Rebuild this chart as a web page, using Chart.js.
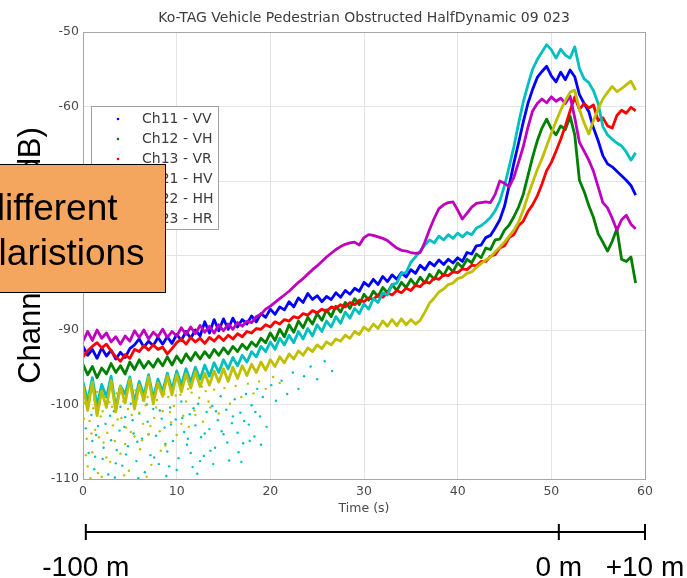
<!DOCTYPE html>
<html>
<head>
<meta charset="utf-8">
<script src="https://cdn.jsdelivr.net/npm/chart.js@4.4.1/dist/chart.umd.min.js"></script>
<style>
  body { margin: 0; background: #fff; }
  #wrap { position: relative; width: 687px; height: 578px; overflow: hidden; }
  #noteBox { position: absolute; left: -2px; top: 164px; width: 168px; height: 129px; box-sizing: border-box;
             background: #F4A65F; border: 1.5px solid #000; }
  #noteText { position: absolute; left: -99px; top: 185px; width: 300px; text-align: center;
              font: 37px/45px "Liberation Sans", Arial, sans-serif; color: #000; }
</style>
</head>
<body>
<div id="wrap">
  <canvas id="gainChart" width="687" height="578"></canvas>
  <div id="noteBox"></div>
  <div id="noteText">different<br>polaristions</div>
</div>
<script>
// 1. Data (time in s, channel gain in dB)
const plotTitle = 'Ko-TAG Vehicle Pedestrian Obstructed HalfDynamic 09 023';
const channelLabels = ['Ch11 - VV', 'Ch12 - VH', 'Ch13 - VR', 'Ch21 - HV', 'Ch22 - HH', 'Ch23 - HR'];
const channelColors = ['#0000FF', '#008000', '#FF0000', '#00BFBF', '#BF00BF', '#BFBF00'];

const timeS = [0,0.5,1,1.5,2,2.5,3,3.5,4,4.5,
  5,5.5,6,6.5,7,7.5,8,8.5,9,9.5,
  10,10.5,11,11.5,12,12.5,13,13.5,14,14.5,
  15,15.5,16,16.5,17,17.5,18,18.5,19,19.5,
  20,20.5,21,21.5,22,22.5,23,23.5,24,24.5,
  25,25.5,26,26.5,27,27.5,28,28.5,29,29.5,
  30,30.5,31,31.5,32,32.5,33,33.5,34,34.5,
  35,35.5,36,36.5,37,37.5,38,38.5,39,39.5,
  40,40.5,41,41.5,42,42.5,43,43.5,44,44.5,
  45,45.5,46,46.5,47,47.5,48,48.5,49,49.5,
  50,50.5,51,51.5,52,52.5,53,53.5,54,54.5,
  55,55.5,56,56.5,57,57.5,58,58.5,59];

const ch11VV = [-92.2,-93.4,-92.6,-93.8,-92.4,-93.5,-92.7,-93.9,-93.0,-93.7,
  -92.5,-92.0,-91.2,-92.3,-91.5,-92.1,-91.0,-91.9,-90.9,-91.8,
  -90.6,-91.4,-90.2,-91.1,-90.0,-90.8,-88.9,-90.4,-88.6,-90.1,
  -88.5,-89.9,-88.4,-89.6,-88.6,-89.2,-88.1,-88.9,-87.8,-88.3,
  -87.2,-87.9,-86.9,-87.3,-86.2,-86.9,-85.7,-86.3,-85.1,-85.9,
  -85.4,-86.2,-85.5,-85.9,-85.0,-85.6,-84.7,-85.2,-84.4,-84.8,
  -83.6,-84.1,-83.2,-83.9,-82.8,-83.5,-82.6,-83.2,-82.3,-82.9,
  -81.9,-82.4,-81.3,-81.9,-80.9,-81.4,-80.6,-81.2,-80.5,-81.0,
  -80.3,-80.8,-79.6,-79.8,-78.7,-78.6,-77.6,-77.3,-76.3,-75.2,
  -73.4,-70.6,-67.6,-64.9,-62.1,-59.6,-57.7,-56.1,-55.3,-54.6,
  -55.9,-56.7,-55.4,-56.4,-55.1,-56.0,-58.4,-59.6,-60.7,-62.9,
  -64.6,-66.6,-67.7,-68.1,-68.7,-69.3,-69.9,-70.6,-71.9];

const ch12VH = [-94.6,-96.0,-94.9,-96.4,-95.1,-95.9,-94.5,-95.7,-94.8,-95.9,
  -94.3,-95.3,-94.0,-95.1,-94.2,-95.0,-93.9,-94.8,-93.6,-94.7,
  -93.5,-94.4,-93.2,-94.1,-93.0,-93.9,-92.9,-93.7,-92.6,-93.4,
  -92.4,-93.2,-92.2,-92.9,-91.9,-92.6,-91.6,-92.2,-91.1,-91.7,
  -90.4,-91.4,-89.9,-90.9,-89.3,-90.3,-88.8,-89.7,-88.3,-89.2,
  -87.8,-88.7,-87.3,-88.2,-86.8,-87.6,-86.3,-87.1,-85.8,-86.6,
  -85.2,-86.0,-84.8,-85.5,-84.3,-85.0,-83.9,-84.7,-83.6,-84.3,
  -83.2,-84.0,-82.9,-83.7,-82.5,-83.2,-82.0,-82.7,-81.5,-82.2,
  -81.0,-81.6,-80.5,-81.0,-79.8,-80.3,-79.0,-79.2,-77.9,-77.8,
  -76.6,-75.9,-74.8,-73.5,-71.8,-69.3,-66.8,-64.6,-62.9,-61.7,
  -63.0,-63.8,-62.6,-63.1,-61.3,-63.8,-69.9,-71.4,-73.3,-74.9,
  -77.1,-78.2,-79.4,-78.1,-76.4,-80.5,-80.8,-80.2,-83.7];

const ch13VR = [-93.6,-92.8,-92.2,-91.7,-92.4,-91.9,-92.8,-93.6,-94.2,-93.3,
  -93.8,-92.6,-92.9,-92.1,-92.7,-92.0,-92.6,-92.3,-93.2,-92.5,
  -91.7,-91.2,-91.9,-91.0,-91.6,-91.1,-91.8,-91.0,-91.5,-90.8,
  -91.4,-90.7,-91.2,-90.5,-90.9,-90.2,-90.4,-89.8,-89.9,-89.3,
  -89.6,-88.9,-89.2,-88.6,-88.8,-88.2,-88.4,-87.8,-88.0,-87.4,
  -87.7,-87.2,-87.5,-86.9,-87.1,-86.6,-86.9,-86.3,-86.6,-86.0,
  -86.2,-85.7,-85.9,-85.3,-85.6,-85.0,-85.3,-84.7,-85.0,-84.4,
  -84.7,-84.0,-84.2,-83.5,-83.7,-83.0,-83.2,-82.6,-82.7,-82.2,
  -82.3,-81.8,-81.9,-81.3,-81.4,-80.8,-80.8,-80.1,-79.9,-79.0,
  -78.7,-77.6,-77.2,-76.0,-75.4,-74.1,-73.2,-72.0,-70.4,-68.6,
  -67.5,-66.0,-64.4,-62.6,-60.6,-58.7,-60.4,-59.6,-60.2,-59.8,
  -61.9,-61.5,-62.6,-62.9,-61.2,-60.5,-60.9,-60.1,-60.6];

const ch21HV = [-97.0,-99.5,-96.4,-100.2,-97.3,-99.0,-96.2,-100.5,-97.5,-98.6,
  -96.3,-99.8,-96.9,-98.8,-96.0,-99.2,-96.6,-98.3,-95.8,-98.0,
  -95.5,-97.4,-95.2,-97.0,-95.0,-96.6,-94.7,-96.2,-94.4,-95.7,
  -94.0,-95.2,-93.7,-94.8,-93.4,-94.3,-92.9,-93.6,-92.2,-92.9,
  -91.6,-92.6,-91.1,-92.0,-90.7,-91.7,-90.2,-91.2,-89.8,-90.8,
  -89.3,-90.2,-88.8,-89.6,-88.2,-89.1,-87.6,-88.4,-87.1,-87.8,
  -86.5,-87.2,-85.8,-86.3,-85.0,-85.3,-83.9,-83.7,-82.4,-82.3,
  -80.9,-80.2,-79.4,-78.6,-77.9,-78.3,-77.4,-77.9,-77.2,-77.7,
  -77.0,-77.5,-76.9,-77.2,-76.3,-76.0,-75.5,-74.9,-74.0,-72.7,
  -70.6,-68.1,-65.4,-62.3,-59.4,-57.1,-55.0,-53.7,-52.7,-51.7,
  -52.4,-53.5,-52.3,-53.1,-53.5,-52.0,-54.9,-56.3,-56.8,-57.9,
  -59.6,-62.7,-63.8,-64.4,-64.9,-65.3,-66.1,-67.2,-66.2];

const ch22HH = [-91.5,-90.2,-91.4,-90.0,-91.1,-90.4,-91.6,-90.9,-91.9,-90.8,
  -91.5,-90.1,-91.0,-90.0,-91.2,-90.3,-90.9,-89.9,-91.0,-90.2,
  -90.8,-89.7,-90.6,-89.6,-90.5,-89.4,-90.3,-89.5,-90.4,-89.3,
  -90.1,-89.2,-89.9,-89.0,-89.5,-88.8,-89.0,-88.2,-87.9,-87.2,
  -86.8,-86.3,-85.8,-85.3,-84.8,-84.2,-83.6,-83.1,-82.5,-81.9,
  -81.4,-80.8,-80.2,-79.7,-79.2,-78.8,-78.5,-78.3,-78.2,-78.6,
  -77.6,-77.2,-77.3,-77.5,-77.7,-78.0,-78.5,-79.0,-79.3,-79.4,
  -79.6,-79.7,-79.6,-78.2,-76.5,-75.0,-73.7,-73.2,-72.9,-72.8,
  -73.9,-75.1,-74.3,-73.5,-73.0,-72.9,-72.8,-72.9,-71.8,-70.0,
  -70.3,-70.8,-69.5,-67.5,-65.4,-62.8,-60.6,-59.6,-59.0,-59.5,
  -58.7,-59.3,-58.9,-59.6,-58.6,-61.5,-64.8,-66.0,-67.2,-68.7,
  -70.8,-72.9,-73.6,-75.0,-76.6,-75.2,-74.6,-75.8,-76.4];

const ch23HR = [-97.5,-100.8,-97.0,-101.5,-98.2,-100.4,-96.8,-101.0,-97.6,-99.8,
  -96.6,-100.6,-97.4,-99.5,-96.3,-99.9,-97.1,-98.9,-96.2,-98.7,
  -96.0,-98.3,-95.9,-97.8,-95.6,-97.6,-95.8,-97.4,-95.5,-97.0,
  -95.2,-96.9,-95.0,-96.5,-94.8,-96.1,-94.6,-95.7,-94.3,-95.4,
  -94.0,-94.9,-93.6,-94.4,-93.2,-93.9,-92.8,-93.4,-92.4,-92.9,
  -92.0,-92.5,-91.6,-92.0,-91.2,-91.5,-90.7,-91.1,-90.2,-90.6,
  -89.6,-90.1,-89.2,-89.8,-88.8,-89.5,-88.6,-89.4,-88.5,-89.3,
  -88.6,-89.2,-88.7,-87.6,-86.4,-85.7,-84.9,-84.5,-83.9,-83.7,
  -83.1,-82.9,-82.4,-82.2,-81.6,-81.1,-80.6,-80.2,-79.5,-78.9,
  -78.2,-77.4,-76.6,-75.5,-73.9,-72.0,-70.2,-68.5,-67.0,-65.3,
  -63.6,-62.0,-60.5,-59.2,-58.1,-57.8,-60.4,-62.2,-63.7,-61.9,
  -60.3,-59.0,-58.1,-57.3,-58.0,-57.6,-57.1,-56.6,-57.8];

// scattered low-level samples of HV and HR (noise floor dots)
const hvDotT = [0.3,0.6,0.9,1.2,1.4,1.8,2.1,2.4,2.7,3.0,3.3,3.6,3.9,4.2,4.5,4.8,5.1,5.4,5.7,6.0,
  6.3,6.6,6.9,7.2,7.5,7.8,8.1,8.4,8.7,9.0,9.3,9.6,9.9,10.2,10.5,10.8,11.1,11.4,11.7,12.0,
  12.3,12.6,12.9,13.2,13.5,13.8,14.1,14.4,14.7,15.0,15.3,15.6,15.9,16.2,16.5,16.8,17.1,17.4,17.7,18.0,
  18.3,18.6,18.9,19.2,19.6,20.1,20.6,21.2,21.8,22.4,23.0,23.6,24.3,25.0,25.8,26.6,12.2,8.9,5.9,3.4,
  0.5,1.0,1.6,2.2,2.9,3.5,4.0,4.6,5.3,5.8,6.4,7.0,7.6,8.2,8.8,9.4,10.0,10.6,11.2,11.8,
  12.5,13.0,13.6,14.2,14.8,15.4,16.0,16.6,17.2,17.8,18.4,19.0,1.3,2.6,4.4,6.8,9.2,11.5,13.9,16.9];
const hvDotDb = [-103.2,-106.5,-101.4,-108.7,-104.1,-99.8,-107.3,-102.6,-109.4,-104.8,-100.9,-106.1,-103.5,-108.2,-101.7,-105.6,-99.9,-103.9,-107.6,-101.2,
  -104.6,-109.1,-102.3,-106.8,-100.6,-104.2,-108.0,-101.9,-103.1,-106.3,-100.4,-104.9,-102.0,-107.2,-99.6,-103.7,-105.4,-101.3,-108.4,-102.8,
  -99.9,-104.4,-106.9,-101.0,-103.3,-100.2,-105.8,-102.1,-98.9,-104.0,-100.7,-107.5,-102.5,-99.3,-103.8,-101.1,-105.2,-98.6,-102.7,-100.1,
  -104.3,-97.9,-101.6,-99.0,-103.0,-97.4,-99.5,-96.8,-98.6,-95.7,-97.9,-96.2,-94.9,-96.6,-94.2,-95.5,-109.3,-109.6,-109.9,-109.8,
  -100.6,-104.9,-102.9,-105.8,-101.5,-107.9,-100.3,-106.7,-102.1,-105.0,-99.4,-104.0,-107.1,-100.8,-105.3,-102.7,-108.8,-101.8,-104.6,-100.5,
  -107.6,-103.9,-106.2,-100.9,-103.6,-105.1,-101.6,-106.4,-102.2,-104.9,-101.0,-105.4,-107.0,-99.6,-103.0,-100.0,-108.3,-106.5,-108.0,-107.7];

const hrDotT = [0.2,0.4,0.5,0.7,1.0,1.1,1.3,1.6,1.9,2.2,2.3,2.6,2.9,3.1,3.4,3.7,4.0,4.3,4.6,4.9,
  5.2,5.5,5.8,6.1,6.4,6.7,7.0,7.3,7.6,7.9,8.2,8.5,8.8,9.1,9.4,9.7,10.0,10.4,10.7,11.0,
  11.3,11.6,11.9,12.4,12.8,13.1,13.6,14.0,14.5,15.1,15.7,16.3,16.9,17.6,18.2,18.8,19.5,20.3,21.0,0.8,
  2.0,4.4,6.8,3.9,1.5,0.1,0.3,0.6,0.9,1.2,1.7,2.1,2.5,2.8,3.2,3.6,4.1,4.5,4.8,5.1,
  5.6,6.0,6.3,6.9,7.2,7.8,8.3,8.7,9.3,9.9,10.5,11.2,12.0,12.7,13.4];
const hrDotDb = [-99.8,-104.6,-108.3,-102.2,-106.4,-100.5,-103.4,-109.2,-101.6,-105.1,-98.9,-103.8,-107.7,-100.3,-104.9,-102.0,-106.6,-99.6,-103.1,-108.9,
  -101.4,-104.3,-99.2,-106.0,-102.6,-100.1,-104.0,-108.1,-101.8,-99.4,-103.6,-100.9,-105.5,-99.0,-102.4,-100.2,-104.1,-98.7,-101.5,-99.6,
  -103.0,-98.4,-100.8,-99.1,-102.3,-98.2,-100.4,-98.0,-101.2,-97.8,-99.9,-97.5,-99.0,-97.2,-98.5,-96.9,-97.9,-96.3,-97.1,-109.9,
  -109.7,-109.5,-109.7,-97.8,-98.3,-101.9,-106.8,-98.7,-103.9,-99.4,-104.4,-100.9,-107.1,-99.7,-102.8,-98.5,-101.8,-105.3,-100.6,-103.7,
  -98.1,-101.1,-104.8,-99.0,-102.9,-100.4,-106.2,-98.6,-101.0,-98.8,-102.6,-97.9,-101.4,-97.6,-99.6];

// distance scale under the time axis
const distMarksS = [0.3, 50.8, 60];
const distLabels = ['-100 m', '0 m', '+10 m'];

// 2. Helpers to build datasets
const tickFont = { family: 'DejaVu Sans', size: 12.5 };
const tickColor = '#4a4a4a';

const lineSet = (i, vals) => ({
  label: channelLabels[i],
  data: vals.map((v, k) => ({ x: timeS[k], y: v })),
  borderColor: channelColors[i],
  backgroundColor: channelColors[i],
  borderWidth: 2.8,
  borderJoinStyle: 'round',
  pointRadius: 0,
  fill: false,
  order: 6 - i
});

const dotSet = (i, ts, dbs, order) => ({
  label: channelLabels[i] + ' dots',
  isDots: true,
  data: ts.map((t, k) => ({ x: t, y: dbs[k] })),
  showLine: false,
  pointRadius: 1.2,
  pointBorderWidth: 0,
  pointBackgroundColor: channelColors[i],
  order
});

// 3. Title, axes box, legend and distance bar drawn on top
const figureExtras = {
  id: 'figureExtras',
  afterDraw(chart) {
    const { ctx, chartArea: a, scales: { x } } = chart;
    ctx.save();

    ctx.strokeStyle = '#a6a6a6';
    ctx.lineWidth = 1;
    ctx.strokeRect(a.left + 0.5, a.top + 0.5, a.right - a.left, a.bottom - a.top);

    ctx.fillStyle = '#3c3c3c';
    ctx.font = '14px "DejaVu Sans"';
    ctx.textAlign = 'center';
    ctx.textBaseline = 'middle';
    ctx.fillText(plotTitle, (a.left + a.right) / 2, a.top - 14);

    // legend box
    const lx = a.left + 8, ly = a.top + 74, lw = 127, lh = 123;
    ctx.fillStyle = '#fff';
    ctx.fillRect(lx, ly, lw, lh);
    ctx.strokeStyle = '#a0a0a0';
    ctx.strokeRect(lx + 0.5, ly + 0.5, lw, lh);
    ctx.textAlign = 'left';
    chart.data.datasets.filter(d => !d.isDots).forEach((d, i) => {
      const y = ly + 13 + i * 20;
      ctx.fillStyle = d.borderColor;
      ctx.beginPath();
      ctx.arc(lx + 27, y, 1.3, 0, Math.PI * 2);
      ctx.fill();
      ctx.fillStyle = '#3c3c3c';
      ctx.fillText(d.label, lx + 51, y);
    });

    // distance bar
    const by = a.bottom + 53;
    const px = distMarksS.map(v => x.getPixelForValue(v));
    ctx.strokeStyle = '#000';
    ctx.lineWidth = 2;
    ctx.beginPath();
    ctx.moveTo(px[0], by);
    ctx.lineTo(px[px.length - 1], by);
    px.forEach(p => { ctx.moveTo(p, by - 8); ctx.lineTo(p, by + 8); });
    ctx.stroke();
    ctx.fillStyle = '#000';
    ctx.font = '28px "Liberation Sans"';
    ctx.textAlign = 'center';
    ctx.textBaseline = 'alphabetic';
    distLabels.forEach((s, i) => ctx.fillText(s, px[i], 576));

    ctx.restore();
  }
};

// 4. Chart
new Chart(document.getElementById('gainChart'), {
  type: 'line',
  data: {
    datasets: [
      lineSet(0, ch11VV),
      lineSet(1, ch12VH),
      lineSet(2, ch13VR),
      lineSet(3, ch21HV),
      lineSet(4, ch22HH),
      lineSet(5, ch23HR),
      dotSet(3, hvDotT, hvDotDb, 2.5),
      dotSet(5, hrDotT, hrDotDb, 0.5)
    ]
  },
  options: {
    responsive: false,
    animation: false,
    layout: { padding: { left: 0, top: 32, right: 42, bottom: 59 } },
    plugins: { legend: { display: false }, tooltip: { enabled: false } },
    scales: {
      x: {
        type: 'linear', min: 0, max: 60,
        ticks: { stepSize: 10, color: tickColor, font: tickFont, padding: 5 },
        grid: { color: '#e4e4e4', drawTicks: false },
        border: { color: '#a6a6a6' },
        title: { display: true, text: 'Time (s)', color: tickColor, font: tickFont, padding: { top: 0, bottom: 3 } },
        afterFit: s => { s.height = 40; }
      },
      y: {
        min: -110, max: -50,
        ticks: { stepSize: 10, color: tickColor, font: tickFont, padding: 4 },
        grid: { color: '#e4e4e4', drawTicks: false },
        border: { color: '#a6a6a6' },
        title: { display: true, text: 'Channel Gain (dB)', color: '#000',
                 font: { family: 'Liberation Sans', size: 31 }, padding: { top: 12.5, bottom: 0 } },
        afterFit: s => { s.width = 83; }
      }
    }
  },
  plugins: [figureExtras]
});
</script>
</body>
</html>
